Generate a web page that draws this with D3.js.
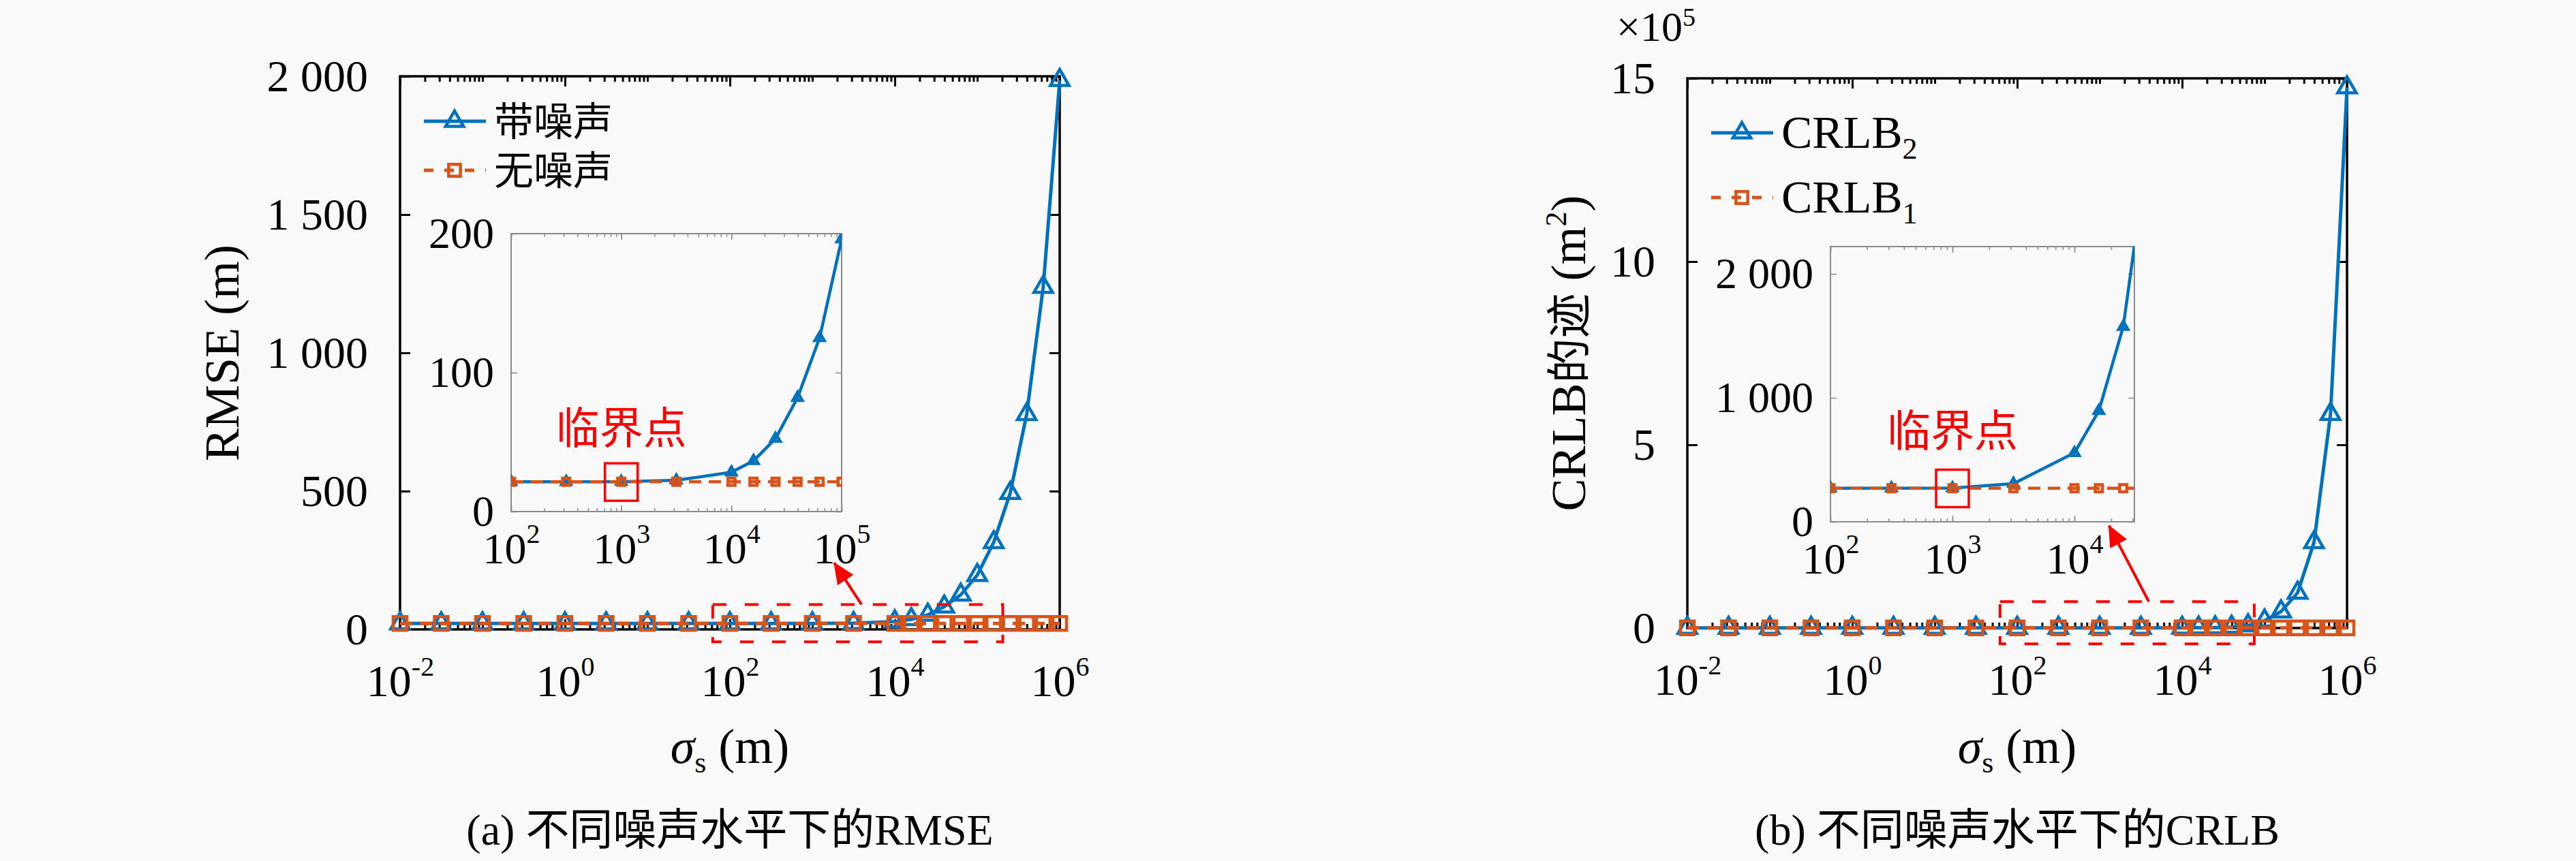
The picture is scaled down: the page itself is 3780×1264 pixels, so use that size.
<!DOCTYPE html>
<html lang="zh">
<head>
<meta charset="UTF-8">
<title>RMSE / CRLB vs noise</title>
<style>
    body{ margin:0; background:#f9f9f9; }
    svg text{ font-family:"Liberation Serif","Noto Sans CJK SC",serif; fill:#000; }
    .cjk{ font-family:"Noto Sans CJK SC",sans-serif; }
    .axis path{ display:none; }
    .axis line{ stroke:#000; stroke-width:3; }
    .axis text{ font-size:66px; }
    .inset .axis text{ font-size:64px; }
    .inset .axis line{ stroke:#8a8a8a; stroke-width:1.5; }
    .box{ fill:none; stroke:#000; stroke-width:3.5; }
    .inset .box{ stroke:#8a8a8a; stroke-width:2; }
    .noisy{ fill:none; stroke:#0072bd; stroke-width:5; }
    .clean{ fill:none; stroke:#d95319; stroke-width:5; stroke-dasharray:18,11; }
    .inset .noisy, .inset .clean{ stroke-width:4.5; }
    .mk-noisy{ fill:none; stroke:#0072bd; stroke-width:4.5; }
    .mk-clean{ fill:none; stroke:#d95319; stroke-width:4.5; }
    .note{ fill:none; stroke:#ff0000; stroke-width:4; }
    .note.dash{ stroke-dasharray:20,27; }
</style>
</head>
<body>
<svg width="3780" height="1264"></svg>
<script src="https://cdn.jsdelivr.net/npm/d3@7/dist/d3.min.js"></script>
<script>
// sigma_s (m): half decades up to 10^4, then 0.2 decade steps
var sigma = [0.01, 0.03162, 0.1, 0.3162, 1, 3.162, 10, 31.62, 100, 316.2, 1000, 3162,
             10000, 15849, 25119, 39811, 63096, 100000, 158489, 251189, 398107, 630957, 1000000];

// (a) RMSE (m)
var rmseNoisy = [21.4, 21.4, 21.4, 21.4, 21.4, 21.4, 21.4, 21.4, 21.4, 21.4, 21.5, 22.5,
                 28.3, 36.5, 52.5, 82, 125, 196, 315, 493, 778, 1238, 1986];
var rmseClean = [21.4, 21.4, 21.4, 21.4, 21.4, 21.4, 21.4, 21.4, 21.4, 21.4, 21.4, 21.4,
                 21.4, 21.4, 21.4, 21.4, 21.4, 21.4, 21.4, 21.4, 21.4, 21.4, 21.4];

// (b) trace of CRLB (m^2)
var crlb2 = [271, 271, 271, 271, 271, 271, 271, 271, 271, 271, 272, 308,
             556, 895, 1574, 3000, 7000, 20000, 45000, 96000, 234000, 584000, 1475000];
var crlb1 = [271, 271, 271, 271, 271, 271, 271, 271, 271, 271, 271, 271,
             271, 271, 271, 271, 271, 271, 271, 271, 271, 271, 271];

var mainXTicks = [1e-2, 1e0, 1e2, 1e4, 1e6];
var rmseTicks = [0, 500, 1000, 1500, 2000];
var crlbTicks = [0, 5e5, 10e5, 15e5];
var insetRmseTicks = [0, 100, 200];
var insetCrlbTicks = [0, 1000, 2000];
var insetRmseXTicks = [1e2, 1e3, 1e4, 1e5];
var insetCrlbXTicks = [1e2, 1e3, 1e4];

var legendA = ["带噪声", "无噪声"];
var legendB = [["CRLB", "2"], ["CRLB", "1"]];
var captionA = "(a) 不同噪声水平下的RMSE";
var captionB = "(b) 不同噪声水平下的CRLB";
var markerNote = "临界点";

// annotation boxes / arrows in data units of the main axes
var zoomBoxA = {x: [62, 2.04e5], y: [-45, 90]};
var zoomBoxB = {x: [62, 7.5e4], y: [-0.43e5, 0.72e5]};
var arrowA = {from: [3.95e3, 90], to: [1.85e3, 240]};
var arrowB = {from: [3.95e3, 0.72e5], to: [1.3e3, 2.79e5]};

var svg = d3.select("svg");
svg.append("rect").attr("width", 3780).attr("height", 1264).attr("fill", "#f9f9f9");

var defs = svg.append("defs");
defs.append("marker")
    .attr("id", "head")
    .attr("markerUnits", "userSpaceOnUse")
    .attr("markerWidth", 32).attr("markerHeight", 28)
    .attr("refX", 30).attr("refY", 14)
    .attr("orient", "auto")
  .append("path")
    .attr("d", "M0,0 L32,14 L0,28 Z")
    .attr("fill", "#ff0000");

var spaced = function(v){ return d3.format(",")(v).replace(/,/g, " "); };

function minorTicks(lo, hi){
    var out = [];
    for (var e = Math.floor(Math.log10(lo)); e <= Math.ceil(Math.log10(hi)); e++)
        for (var k = 1; k < 10; k++){
            var v = k * Math.pow(10, e);
            if (v >= lo * 0.999 && v <= hi * 1.001) out.push(v);
        }
    return out;
}

function powLabels(sel, off){
    sel.selectAll(".tick text").each(function(d){
        var t = d3.select(this).attr("y", off).attr("dy", 0).text("10");
        t.append("tspan").attr("dy", -30).attr("font-size", 40).text(Math.round(Math.log10(d)));
    });
}

function drawAxes(g, x, y, o){
    var w = o.x1 - o.x0, h = o.y1 - o.y0;
    var minors = minorTicks(x.domain()[0], x.domain()[1]);
    g.append("g").attr("class", "axis").attr("transform", "translate(0," + o.y1 + ")")
        .call(d3.axisBottom(x).tickValues(minors).tickSize(-o.minor).tickFormat(""));
    g.append("g").attr("class", "axis").attr("transform", "translate(0," + o.y0 + ")")
        .call(d3.axisTop(x).tickValues(minors).tickSize(-o.minor).tickFormat(""));
    g.append("g").attr("class", "axis").attr("transform", "translate(0," + o.y1 + ")")
        .call(d3.axisBottom(x).tickValues(o.xTicks).tickSize(-o.major))
        .call(powLabels, o.xLabOff);
    g.append("g").attr("class", "axis").attr("transform", "translate(0," + o.y0 + ")")
        .call(d3.axisTop(x).tickValues(o.xTicks).tickSize(-o.major).tickFormat(""));
    g.append("g").attr("class", "axis").attr("transform", "translate(" + o.x0 + ",0)")
        .call(d3.axisLeft(y).tickValues(o.yTicks).tickSize(-o.major).tickPadding(o.yPad).tickFormat(o.yFmt));
    g.append("g").attr("class", "axis").attr("transform", "translate(" + o.x1 + ",0)")
        .call(d3.axisRight(y).tickValues(o.yTicks).tickSize(-o.major).tickFormat(""));
    g.append("rect").attr("class", "box")
        .attr("x", o.x0).attr("y", o.y0).attr("width", w).attr("height", h);
}

function drawSeries(g, x, y, xs, a, b, sz){
    var pts = function(vals){ return xs.map(function(s, i){ return [s, vals[i]]; }); };
    var line = d3.line().x(function(d){ return x(d[0]); }).y(function(d){ return y(d[1]); });
    var tri = d3.symbol().type(d3.symbolTriangle).size(sz.tri);
    var sq = d3.symbol().type(d3.symbolSquare).size(sz.sq);
    g.append("path").attr("class", "noisy").attr("d", line(pts(a)));
    g.selectAll(".tn").data(pts(a)).enter().append("path")
        .attr("class", "mk-noisy").attr("d", tri)
        .attr("transform", function(d){ return "translate(" + x(d[0]) + "," + y(d[1]) + ")"; });
    g.append("path").attr("class", "clean").attr("d", line(pts(b)));
    g.selectAll(".sc").data(pts(b)).enter().append("path")
        .attr("class", "mk-clean").attr("d", sq)
        .attr("transform", function(d){ return "translate(" + x(d[0]) + "," + y(d[1]) + ")"; });
}

function panel(o){
    var g = svg.append("g");
    var x = d3.scaleLog().domain([1e-2, 1e6]).range([o.x0, o.x1]);
    var y = d3.scaleLinear().domain(o.yDomain).range([o.y1, o.y0]);
    drawAxes(g, x, y, {x0:o.x0, x1:o.x1, y0:o.y0, y1:o.y1, xTicks:mainXTicks, yTicks:o.yTicks,
        yFmt:o.yFmt, yPad:47, xLabOff:98, major:15, minor:8});
    drawSeries(g, x, y, sigma, o.a, o.b, {tri:320, sq:400});

    // zoom region + arrow
    g.append("rect").attr("class", "note dash")
        .attr("x", x(o.box.x[0])).attr("y", y(o.box.y[1]))
        .attr("width", x(o.box.x[1]) - x(o.box.x[0]))
        .attr("height", y(o.box.y[0]) - y(o.box.y[1]));
    g.append("line").attr("class", "note")
        .attr("x1", x(o.arrow.from[0])).attr("y1", y(o.arrow.from[1]))
        .attr("x2", x(o.arrow.to[0])).attr("y2", y(o.arrow.to[1]))
        .attr("marker-end", "url(#head)");

    // inset
    var ins = o.inset;
    var gi = svg.append("g").attr("class", "inset");
    gi.append("rect").attr("x", ins.x0).attr("y", ins.y0)
        .attr("width", ins.x1 - ins.x0).attr("height", ins.y1 - ins.y0).attr("fill", "#f9f9f9");
    var xi = d3.scaleLog().domain(ins.xDomain).range([ins.x0, ins.x1]);
    var yi = d3.scaleLinear().domain(ins.yDomain).range([ins.y1, ins.y0]);
    drawAxes(gi, xi, yi, {x0:ins.x0, x1:ins.x1, y0:ins.y0, y1:ins.y1, xTicks:ins.xTicks, yTicks:ins.yTicks,
        yFmt:spaced, yPad:25, xLabOff:76, major:9, minor:5});
    gi.selectAll(".axis text").style("fill", "#000");
    var clipId = "clip" + o.id;
    defs.append("clipPath").attr("id", clipId).append("rect")
        .attr("x", ins.x0).attr("y", ins.y0).attr("width", ins.x1 - ins.x0).attr("height", ins.y1 - ins.y0);
    var keep = [];
    sigma.forEach(function(s, i){ if (s >= 99 && s <= ins.xDomain[1] * 1.6) keep.push(i); });
    var gs = gi.append("g").attr("clip-path", "url(#" + clipId + ")");
    drawSeries(gs, xi, yi, keep.map(function(i){ return sigma[i]; }),
        keep.map(function(i){ return o.a[i]; }), keep.map(function(i){ return o.b[i]; }), {tri:80, sq:110});

    // critical point mark
    var cx = xi(1000), cy = yi(o.a[sigma.indexOf(1000)]);
    gi.append("rect").attr("class", "note").style("stroke-width", 3.5)
        .attr("x", cx - 24).attr("y", cy - 27).attr("width", 48).attr("height", 55);
    gi.append("text").attr("class", "cjk").attr("x", cx).attr("y", yi(ins.noteY))
        .attr("text-anchor", "middle").attr("font-size", 64).style("fill", "#ff0000")
        .text(markerNote);

    // legend
    var lg = svg.append("g");
    o.legend.forEach(function(lab, i){
        var ly = o.legY[i];
        var cls = i === 0 ? "noisy" : "clean";
        lg.append("line").attr("class", cls).attr("x1", o.x0 + 35).attr("x2", o.x0 + 126)
            .attr("y1", ly).attr("y2", ly)
            .style("stroke-dasharray", i === 0 ? null : "14,16");
        lg.append("path").attr("class", i === 0 ? "mk-noisy" : "mk-clean")
            .attr("d", d3.symbol().type(i === 0 ? d3.symbolTriangle : d3.symbolSquare).size(300))
            .attr("transform", "translate(" + (o.x0 + 80) + "," + ly + ")");
        var t = lg.append("text").attr("x", o.x0 + 138).attr("y", ly + 22);
        if (typeof lab === "string"){
            t.attr("class", "cjk").attr("font-size", 58).attr("y", ly + 21).text(lab);
        } else {
            t.attr("font-size", 68).text(lab[0]);
            t.append("tspan").attr("font-size", 44).attr("dy", 16).text(lab[1]);
        }
    });

    // axis titles
    var yl = svg.append("text").attr("text-anchor", "middle").attr("font-size", 72)
        .attr("transform", "translate(" + o.yLabX + "," + ((o.y0 + o.y1) / 2) + ") rotate(-90)");
    o.yLabel(yl);
    var xl = svg.append("text").attr("text-anchor", "middle").attr("font-size", 72)
        .attr("x", (o.x0 + o.x1) / 2).attr("y", 1120);
    xl.append("tspan").attr("font-style", "italic").text("σ");
    xl.append("tspan").attr("font-size", 44).attr("dy", 14).text("s");
    xl.append("tspan").attr("dy", -14).text(" (m)");

    svg.append("text").attr("text-anchor", "middle").attr("font-size", 64)
        .attr("x", (o.x0 + o.x1) / 2).attr("y", 1240).text(o.caption);
}

panel({
    id: "a", x0: 587, x1: 1555, y0: 112, y1: 924,
    yDomain: [0, 2000], yTicks: rmseTicks, yFmt: spaced,
    a: rmseNoisy, b: rmseClean,
    box: zoomBoxA, arrow: arrowA,
    inset: {x0: 750, x1: 1235, y0: 343, y1: 751, xDomain: [1e2, 1e5], yDomain: [0, 200],
            xTicks: insetRmseXTicks, yTicks: insetRmseTicks, noteY: 49},
    legend: legendA, legY: [178, 250],
    yLabX: 350,
    yLabel: function(t){ t.text("RMSE (m)"); },
    caption: captionA
});

panel({
    id: "b", x0: 2476, x1: 3444, y0: 115, y1: 922,
    yDomain: [0, 15e5], yTicks: crlbTicks, yFmt: function(v){ return v / 1e5; },
    a: crlb2, b: crlb1,
    box: zoomBoxB, arrow: arrowB,
    inset: {x0: 2686, x1: 3132, y0: 362, y1: 766, xDomain: [1e2, 3.1e4], yDomain: [0, 2220],
            xTicks: insetCrlbXTicks, yTicks: insetCrlbTicks, noteY: 611},
    legend: legendB, legY: [195, 290],
    yLabX: 2326,
    yLabel: function(t){
        t.text("CRLB");
        t.append("tspan").attr("class", "cjk").attr("font-size", 66).text("的迹");
        t.append("tspan").text(" (m");
        t.append("tspan").attr("font-size", 44).attr("dy", -28).text("2");
        t.append("tspan").attr("dy", 28).text(")");
    },
    caption: captionB
});

// x10^5 exponent note for panel (b)
var ex = svg.append("text").attr("x", 2372).attr("y", 60).attr("font-size", 62).text("×10");
ex.append("tspan").attr("font-size", 38).attr("dy", -22).text("5");
</script>
</body>
</html>
